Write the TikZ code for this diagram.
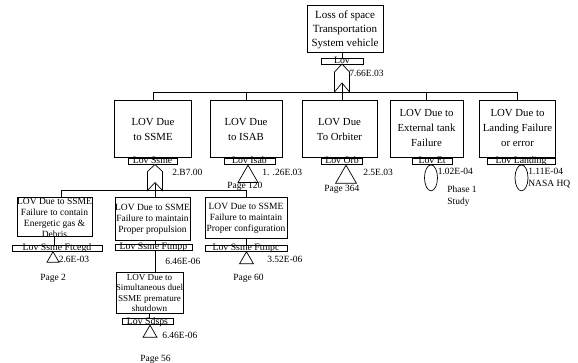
\documentclass[tikz,border=0pt]{standalone}
\usepackage{fontspec}
\setmainfont{Liberation Serif}
\usetikzlibrary{shapes.geometric,calc}
\begin{document}
\begin{tikzpicture}[x=1pt,y=-1pt,line width=0.7pt,
 box/.style={draw,rectangle,inner sep=0pt,fill=white},
 lab/.style={draw,rectangle,inner sep=0pt,minimum height=6pt,fill=white},
 labtxt/.style={font=\fontsize{9.8}{10}\selectfont,inner sep=0pt,anchor=base},
 val/.style={font=\fontsize{9.5}{10}\selectfont,inner sep=0pt,anchor=base west},
 big/.style={font=\fontsize{11}{14}\selectfont,align=center,inner sep=0pt},
 mid/.style={font=\fontsize{10.8}{15}\selectfont,align=center,inner sep=0pt},
 small/.style={font=\fontsize{9.5}{11}\selectfont,align=center,inner sep=0pt},
 tri/.style={draw,regular polygon,regular polygon sides=3,inner sep=0pt,fill=white},
 ell/.style={draw,ellipse,inner sep=0pt,fill=white,minimum width=13pt,minimum height=26pt},
 gatepath/.style={draw,fill=white,line join=miter}]
\useasboundingbox (0,0) rectangle (578,363);
% top
\node[box,minimum width=76,minimum height=47] (top) at (345,28.5) {};
\node[big] (topt) at (345,30) {Loss of space\\Transportation\\System vehicle};
\node[lab,minimum width=42] (toplab) at (342,61) {};
\node[labtxt] (toplabt) at (342,63.5) {Lov};
\coordinate (g0) at (342,64);
\coordinate (g0n) at (342,83);
\node[val] (v0) at (349,77) {7.66E.03};
% level 2 boxes
\coordinate (h1) at (0,92);
\node[box,minimum width=77,minimum height=57] (ssme) at (153,128.5) {};
\node[box,minimum width=72,minimum height=57] (isab) at (246,128.5) {};
\node[box,minimum width=75,minimum height=57] (orb) at (339.5,128.5) {};
\node[box,minimum width=73,minimum height=57] (et) at (426.5,128.5) {};
\node[box,minimum width=76,minimum height=57] (land) at (517.5,128.5) {};
\node[mid] (ssmet) at (153,129.5) {LOV Due\\to SSME};
\node[mid] (isabt) at (246,129.5) {LOV Due\\to ISAB};
\node[mid] (orbt) at (339.5,129.5) {LOV Due\\To Orbiter};
\node[mid] (ett) at (426.5,128) {LOV Due to\\External tank\\Failure};
\node[mid] (landt) at (517.5,128) {LOV Due to\\Landing Failure\\or error};
% level 2 labels
\node[lab,minimum width=49] (lssme) at (152.5,161.5) {};
\node[lab,minimum width=51] (lisab) at (249.5,161.5) {};
\node[lab,minimum width=41] (lorb) at (342,161.5) {};
\node[lab,minimum width=40] (let) at (432,161.5) {};
\node[lab,minimum width=68] (lland) at (521,161.5) {};
\node[labtxt] at (152.5,164) {Lov Ssme};
\node[labtxt] at (249.5,164) {Lov Isab};
\node[labtxt] at (342,164) {Lov Orb};
\node[labtxt] at (432,164) {Lov Et};
\node[labtxt] at (521,164) {Lov Landing};
\coordinate (g1) at (155,164.5);
\coordinate (g1n) at (155,182.5);
\node[tri,minimum size=23,anchor=corner 1] (tisab) at (248,164.5) {};
\node[tri,minimum size=24,anchor=corner 1] (torb) at (346,164.5) {};
\node[ell,anchor=north] (eet) at (431,164.5) {};
\node[ell,anchor=north] (eland) at (521.5,164.5) {};
\node[val] (v1) at (172,176) {2.B7.00};
\node[val] (v2) at (262,176) {1. .26E.03};
\node[val] (p120) at (227,189) {Page 120};
\node[val] (v3) at (363,175.5) {2.5E.03};
\node[val] (p364) at (324,191.5) {Page 364};
\node[val] (v4) at (437.5,175) {1.02E-04};
\node[val] (ph1) at (447,193) {Phase 1};
\node[val] (st) at (447,205) {Study};
\node[val] (v5) at (528,175) {1.11E-04};
\node[val] (nasa) at (528,187) {NASA HQ};
% level 3
\coordinate (h2) at (0,190);
\node[box,minimum width=75,minimum height=39] (b1) at (54.5,216.5) {};
\node[box,minimum width=75,minimum height=43] (b2) at (152.5,218.5) {};
\node[box,minimum width=82,minimum height=41] (b3) at (246,217.5) {};
\node[small] (b1t) at (54.5,217.5) {LOV Due to SSME\\Failure to contain\\Energetic gas \&\\Debris};
\node[small] (b2t) at (152.5,219) {LOV Due to SSME\\Failure to maintain\\Proper propulsion};
\node[small] (b3t) at (246,218) {LOV Due to SSME\\Failure to maintain\\Proper configuration};
\coordinate (c1) at (61,190);
\node[lab,minimum width=90] (l1) at (57,248) {};
\node[lab,minimum width=77] (l2) at (153.5,247) {};
\node[lab,minimum width=82] (l3) at (246,248) {};
\node[labtxt] at (57,250.5) {Lov Ssme Ftcegd};
\node[labtxt] at (153.5,249.5) {Lov Ssme Ftmpp};
\node[labtxt] at (246,250.5) {Lov Ssme Ftmpc};
\node[tri,minimum size=14,anchor=corner 1] (t1) at (53,251) {};
\node[tri,minimum size=16,anchor=corner 1] (t3) at (246.5,251) {};
\node[val] (v6) at (58.5,262) {2.6E-03};
\node[val] (p2) at (40,280) {Page 2};
\node[val] (v7) at (165,265) {6.46E-06};
\node[val] (v8) at (267,263) {3.52E-06};
\node[val] (p60) at (233,280) {Page 60};
% level 4
\node[box,minimum width=67,minimum height=41] (b4) at (149.5,292.5) {};
\node[small,font=\fontsize{9.1}{10.5}\selectfont] (b4t) at (149.5,293) {LOV Due to\\Simultaneous duel\\SSME premature\\shutdown};
\node[lab,minimum width=51] (l4) at (147.5,321.5) {};
\node[labtxt] at (147.5,324) {Lov Sdsps};
\node[tri,minimum size=16,anchor=corner 1] (t4) at (150,324.5) {};
\node[val] (v9) at (162,338) {6.46E-06};
\node[val] (p56) at (140,361) {Page 56};
% connectors
\draw (top.south -| g0) -- (toplab.north -| g0);
\draw (ssme.north |- h1) -- (land.north |- h1);
\draw (ssme.north |- h1) -- (ssme.north);
\draw (isab.north |- h1) -- (isab.north);
\draw (et.north |- h1) -- (et.north);
\draw (land.north |- h1) -- (land.north);
\draw (g0n) -- (g0n |- orb.north);
\draw (ssme.south) -- (lssme.north -| ssme.south);
\draw (isab.south) -- (lisab.north -| isab.south);
\draw (orb.south -| g0) -- (lorb.north -| g0);
\draw (et.south) -- (let.north -| et.south);
\draw (land.south) -- (lland.north -| land.south);
\draw (c1) -- (b3.north |- h2);
\draw (c1) -- (c1 |- b1.north);
\draw (b3.north |- h2) -- (b3.north);
\draw (g1n) -- (g1n |- b2.north);
\draw (b1.south) -- (l1.north -| b1.south);
\draw (b2.south -| g1) -- (l2.north -| g1);
\draw (b3.south) -- (l3.north -| b3.south);
\draw (l2.south -| g1) -- (b4.north -| g1);
\draw (b4.south) -- (l4.north -| b4.south);
% gates
\path[gatepath] (g0) -- ++(7.5,8) -- ++(0,20) -- (g0n) -- ++(-7.5,9) -- ++(0,-20) -- cycle;
\path[gatepath] (g1) -- ++(7.5,7) -- ++(0,19) -- (g1n) -- ++(-7.5,8) -- ++(0,-19) -- cycle;
\end{tikzpicture}
\end{document}
